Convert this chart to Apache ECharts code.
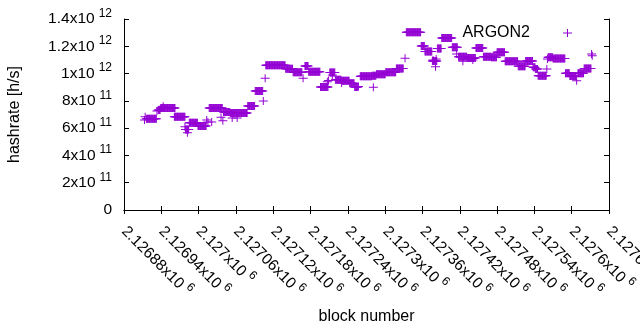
<!DOCTYPE html>
<html>
<head>
<meta charset="utf-8">
<script src="https://cdn.jsdelivr.net/npm/echarts@6/dist/echarts.min.js"></script>
<style>
  html, body { margin: 0; padding: 0; background: #fff; }
  #main { width: 640px; height: 330px; }
</style>
</head>
<body>
<div id="main"></div>
<script>
// runs of blocks that share the same hashrate value (single points have start == end)
var runStart = [2126914, 2126913, 2126916, 2126933, 2126935, 2126939, 2126943, 2126961, 2126978, 2126979,
  2126982, 2126985, 2126999, 2127013, 2127015, 2127021, 2127017, 2127036, 2127039, 2127040,
  2127051, 2127054, 2127062, 2127079, 2127091, 2127104, 2127107, 2127108, 2127140, 2127152,
  2127168, 2127171, 2127177, 2127196, 2127207, 2127209, 2127211, 2127215, 2127220, 2127230,
  2127230, 2127243, 2127251, 2127257, 2127260, 2127281, 2127279, 2127286, 2127301, 2127318,
  2127332, 2127334, 2127358, 2127364, 2127377, 2127382, 2127376, 2127381, 2127384, 2127391,
  2127408, 2127415, 2127418, 2127432, 2127425, 2127441, 2127446, 2127458, 2127471, 2127480,
  2127493, 2127494, 2127514, 2127526, 2127538, 2127542, 2127546, 2127560, 2127561, 2127562,
  2127570, 2127590, 2127597, 2127608, 2127610, 2127620, 2127632, 2127633];
var runEnd = [2126914, 2126913, 2126932, 2126933, 2126938, 2126962, 2126943, 2126978, 2126978, 2126984,
  2126982, 2126998, 2127012, 2127013, 2127015, 2127021, 2127038, 2127036, 2127039, 2127050,
  2127078, 2127054, 2127062, 2127090, 2127103, 2127104, 2127107, 2127139, 2127151, 2127166,
  2127168, 2127176, 2127195, 2127208, 2127207, 2127209, 2127219, 2127215, 2127229, 2127242,
  2127230, 2127250, 2127256, 2127257, 2127278, 2127281, 2127285, 2127300, 2127317, 2127329,
  2127332, 2127357, 2127363, 2127375, 2127377, 2127382, 2127383, 2127381, 2127390, 2127407,
  2127416, 2127415, 2127431, 2127445, 2127425, 2127441, 2127457, 2127470, 2127479, 2127492,
  2127493, 2127513, 2127525, 2127537, 2127541, 2127545, 2127559, 2127560, 2127561, 2127569,
  2127589, 2127596, 2127607, 2127608, 2127619, 2127631, 2127632, 2127633];
var runRate = [6.84e11, 6.6e11, 6.68e11, 7.26e11, 7.33e11, 7.48e11, 7.6e11, 6.84e11, 6.1e11, 5.9e11,
  5.66e11, 6.4e11, 6.16e11, 6.6e11, 6.45e11, 6.45e11, 7.48e11, 6.8e11, 6.55e11, 7.18e11,
  7.11e11, 6.74e11, 6.74e11, 7.62e11, 8.72e11, 7.99e11, 9.65e11, 1.061e12, 1.035e12, 1.009e12,
  9.65e11, 1.055e12, 1.014e12, 9.02e11, 9.4e11, 9.5e11, 1.008e12, 9.9e11, 9.55e11, 9.48e11,
  9.3e11, 9.29e11, 9.02e11, 9.05e11, 9.8e11, 8.99e11, 9.84e11, 9.95e11, 1.009e12, 1.037e12,
  1.112e12, 1.302e12, 1.202e12, 1.162e12, 1.1e12, 1.107e12, 1.092e12, 1.05e12, 1.184e12, 1.261e12,
  1.193e12, 1.143e12, 1.124e12, 1.114e12, 1.09e12, 1.1e12, 1.187e12, 1.124e12, 1.12e12, 1.156e12,
  1.09e12, 1.09e12, 1.054e12, 1.092e12, 1.046e12, 1.034e12, 9.84e11, 1.034e12, 1.107e12, 1.12e12,
  1.11e12, 1.002e12, 9.82e11, 9.48e11, 1.002e12, 1.037e12, 1.143e12, 1.13e12];

var xTickMantissa = ['2.12688', '2.12694', '2.127', '2.12706', '2.12712', '2.12718', '2.12724',
  '2.1273', '2.12736', '2.12742', '2.12748', '2.12754', '2.1276', '2.12766'];
var xTickExp = '6';
var yTickMantissa = ['0', '2x10', '4x10', '6x10', '8x10', '1x10', '1.2x10', '1.4x10'];
var yTickExp = ['', '11', '11', '11', '11', '12', '12', '12'];

var xMin = 2126880, xMax = 2127660, xStep = 60;
var yMin = 0, yMax = 1.4e12, yStep = 2e11;

// one point per block
var points = [];
for (var i = 0; i < runStart.length; i++) {
    for (var b = runStart[i]; b <= runEnd[i]; b++) {
        points.push([b, runRate[i]]);
    }
}

var plus = 'path://M4,0h1v3.5h4v1h-4v3.5h-1v-3.5h-4v-1h4z';
var font = 'Liberation Sans';
var rich = {
    m: { fontSize: 15.5, fontFamily: font, color: '#000' },
    e: { fontSize: 12, fontFamily: font, color: '#000', padding: [0, 0, 11, 4] }
};

var myChart = echarts.init(document.getElementById('main'));

var option = {
    animation: false,
    textStyle: { fontFamily: font },
    grid: { left: 124, right: 31, top: 19, bottom: 120, containLabel: false, outerBoundsMode: 'none' },
    legend: {
        data: ['ARGON2'],
        right: 68,
        top: 25,
        padding: 0,
        align: 'right',
        itemWidth: 9,
        itemHeight: 8,
        textStyle: { fontSize: 16, fontFamily: font, color: '#000', padding: [0, 28, 0, 0] }
    },
    xAxis: [
        {
            type: 'value',
            min: xMin, max: xMax, interval: xStep,
            name: 'block number',
            nameLocation: 'middle',
            nameGap: 99,
            nameTextStyle: { fontSize: 16, color: '#000', fontFamily: font },
            splitLine: { show: false },
            axisLine: { lineStyle: { color: '#000' } },
            axisTick: { inside: true, length: 4, lineStyle: { color: '#000' } },
            axisLabel: {
                rotate: -45,
                margin: 19,
                showMaxLabel: true,
                hideOverlap: false,
                formatter: function (v) {
                    var k = Math.round((v - xMin) / xStep);
                    return '{m|' + xTickMantissa[k] + 'x10}{e|' + xTickExp + '}';
                },
                rich: rich
            }
        },
        {
            type: 'value', position: 'top',
            min: xMin, max: xMax, interval: xStep,
            splitLine: { show: false },
            axisLine: { lineStyle: { color: '#000' } },
            axisTick: { inside: true, length: 4, lineStyle: { color: '#000' } },
            axisLabel: { show: false }
        }
    ],
    yAxis: [
        {
            type: 'value',
            min: yMin, max: yMax, interval: yStep,
            name: 'hashrate [h/s]',
            nameLocation: 'middle',
            nameGap: 101,
            nameTextStyle: { fontSize: 16, color: '#000', fontFamily: font },
            splitLine: { show: false },
            axisLine: { show: true, lineStyle: { color: '#000' } },
            axisTick: { show: true, inside: true, length: 5, lineStyle: { color: '#000' } },
            axisLabel: {
                margin: 12,
                formatter: function (v) {
                    var k = Math.round(v / yStep);
                    if (!yTickExp[k]) return '{m|' + yTickMantissa[k] + '}';
                    return '{m|' + yTickMantissa[k] + '}{e|' + yTickExp[k] + '}';
                },
                rich: rich
            }
        },
        {
            type: 'value', position: 'right',
            min: yMin, max: yMax, interval: yStep,
            splitLine: { show: false },
            axisLine: { show: true, lineStyle: { color: '#000' } },
            axisTick: { show: true, inside: true, length: 5, lineStyle: { color: '#000' } },
            axisLabel: { show: false }
        }
    ],
    series: [
        {
            name: 'ARGON2',
            type: 'scatter',
            symbol: plus,
            symbolSize: [9, 8],
            itemStyle: { color: '#9400d3', opacity: 1 },
            data: points
        }
    ]
};

myChart.setOption(option);
</script>
</body>
</html>
